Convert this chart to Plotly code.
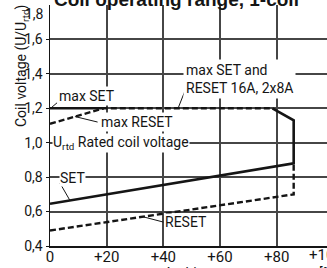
import plotly.graph_objects as go

# ---- data ----
x_ticks = [0, 20, 40, 60, 80]
x_ticktext = ["0", "+20", "+40", "+60", "+80"]
y_ticks = [0.4, 0.6, 0.8, 1.0, 1.2, 1.4, 1.6]
y_ticktext = ["0,4", "0,6", "0,8", "1,0", "1,2", "1,4", "1,6"]

set_T = [0, 86]
set_V = [0.645, 0.88]
reset_T = [0, 86]
reset_V = [0.49, 0.70]
max_set_T = [0, 19]
max_set_V = [1.2, 1.2]
max_reset_T = [0, 19, 78.5]
max_reset_V = [1.11, 1.2, 1.2]
hot_edge_T = [78.5, 86, 86]
hot_edge_V = [1.2, 1.13, 0.88]
hot_edge_reset_T = [86, 86]
hot_edge_reset_V = [0.88, 0.70]

W, H = 327, 268
L, R, T, B = 50, 0, 5, 22
X_MAX = 97.76

FONT = "Roboto, Liberation Sans, sans-serif"
TICKFONT = "Liberation Sans Narrow, Roboto, sans-serif"
INK = "#151515"
GRID = "rgb(70,70,70)"

fig = go.Figure()

solid = dict(color=INK, width=2.6)
dashed = dict(color=INK, width=2.4, dash="6px,3px")

fig.add_trace(go.Scatter(x=set_T + [hot_edge_T[2], hot_edge_T[1], hot_edge_T[0]],
                         y=set_V + [hot_edge_V[2], hot_edge_V[1], hot_edge_V[0]],
                         mode="lines", line=solid, hoverinfo="skip"))
fig.add_trace(go.Scatter(x=max_set_T, y=max_set_V, mode="lines", line=solid, hoverinfo="skip"))
fig.add_trace(go.Scatter(x=reset_T + [hot_edge_reset_T[0]], y=reset_V + [hot_edge_reset_V[0]],
                         mode="lines", line=dashed, hoverinfo="skip"))
fig.add_trace(go.Scatter(x=max_reset_T, y=max_reset_V, mode="lines", line=dashed, hoverinfo="skip"))

ann = []
shapes = []
def label(text, x, y, xanchor="left", pad=1):
    ann.append(dict(text=text, x=x, y=y, xref="x", yref="y", xanchor=xanchor, yanchor="middle",
                    showarrow=False, bgcolor="white", borderpad=pad,
                    font=dict(family=FONT, size=14, color=INK), align="left"))

def leader(hx, hy, tx, ty):
    shapes.append(dict(type="line", xref="x", yref="y", x0=hx, y0=hy, x1=tx, y1=ty,
                       line=dict(color=INK, width=1), layer="above"))

label("max SET", 2.4, 1.272)
label("max RESET", 17.2, 1.12)
label("U<sub>rtd</sub> Rated coil voltage", 0.6, 1.0, pad=0)
label("max SET and<br>RESET 16A, 2x8A", 47.0, 1.37, pad=2)
label("SET", 3.3, 0.795, pad=0)
label("RESET", 40.2, 0.54, pad=0)

leader(0.2, 1.2, 2.5, 1.232)
leader(8.8, 1.152, 16.8, 1.12)
leader(45.2, 1.2, 47.6, 1.30)
leader(7.06, 0.664, 3.5, 0.766)
leader(32.8, 0.570, 40.0, 0.539)

def px_x(p):
    return (p - L) / (W - L - R)

def px_y(p):
    return (H - B - p) / (H - B - T)

# cropped title, axis titles, edge tick labels
ann.append(dict(text="<b>Coil operating range, 1-coil</b>", xref="paper", yref="paper",
                x=px_x(176.5), y=px_y(-1), xanchor="center", yanchor="middle", showarrow=False,
                font=dict(family="Liberation Sans, Arial, sans-serif", size=19, color=INK)))
ann.append(dict(text="Coil voltage (U/U<sub>rtd</sub>)", xref="paper", yref="paper",
                x=px_x(22), y=px_y(66), xanchor="center", yanchor="middle", textangle=-90,
                showarrow=False, font=dict(family=FONT, size=14, color=INK)))
ann.append(dict(text="Ambient temperature", xref="paper", yref="paper",
                x=px_x(162), y=px_y(263), xanchor="left", yanchor="top", showarrow=False,
                font=dict(family=FONT, size=14, color=INK)))
ann.append(dict(text="[°C]", xref="paper", yref="paper",
                x=px_x(317), y=px_y(263), xanchor="left", yanchor="top", showarrow=False,
                font=dict(family=FONT, size=14, color=INK)))
ann.append(dict(text="+100", xref="paper", yref="paper",
                x=px_x(307), y=px_y(255), xanchor="left", yanchor="middle", showarrow=False,
                font=dict(family=TICKFONT, size=15, color=INK)))
ann.append(dict(text="1,8", xref="paper", yref="paper",
                x=0, xshift=-4, y=px_y(14), xanchor="right", yanchor="middle", showarrow=False,
                font=dict(family=TICKFONT, size=14, color=INK)))

fig.update_layout(
    template="none",
    width=W, height=H,
    margin=dict(l=L, r=R, t=T, b=B, pad=0, autoexpand=False),
    paper_bgcolor="white", plot_bgcolor="white",
    showlegend=False,
    annotations=ann,
    shapes=shapes,
    xaxis=dict(range=[0, X_MAX], tickmode="array", tickvals=x_ticks, ticktext=x_ticktext,
               automargin=False, ticklabelstandoff=-4,
               showgrid=True, gridcolor=GRID, gridwidth=2,
               showline=True, linecolor=INK, linewidth=1.5,
               zeroline=False, ticks="",
               tickfont=dict(family=TICKFONT, size=15, color=INK)),
    yaxis=dict(range=[0.4, 1.8], tickmode="array", tickvals=y_ticks, ticktext=y_ticktext,
               automargin=False,
               showgrid=True, gridcolor=GRID, gridwidth=2,
               showline=True, linecolor=INK, linewidth=1.5,
               zeroline=False, ticks="outside", ticklen=3, tickcolor=INK,
               tickfont=dict(family=TICKFONT, size=14, color=INK)),
)

fig.write_html("out.html", config={"displayModeBar": False, "staticPlot": True},
               post_script="document.body.style.margin='0';document.body.style.overflow='hidden';")
